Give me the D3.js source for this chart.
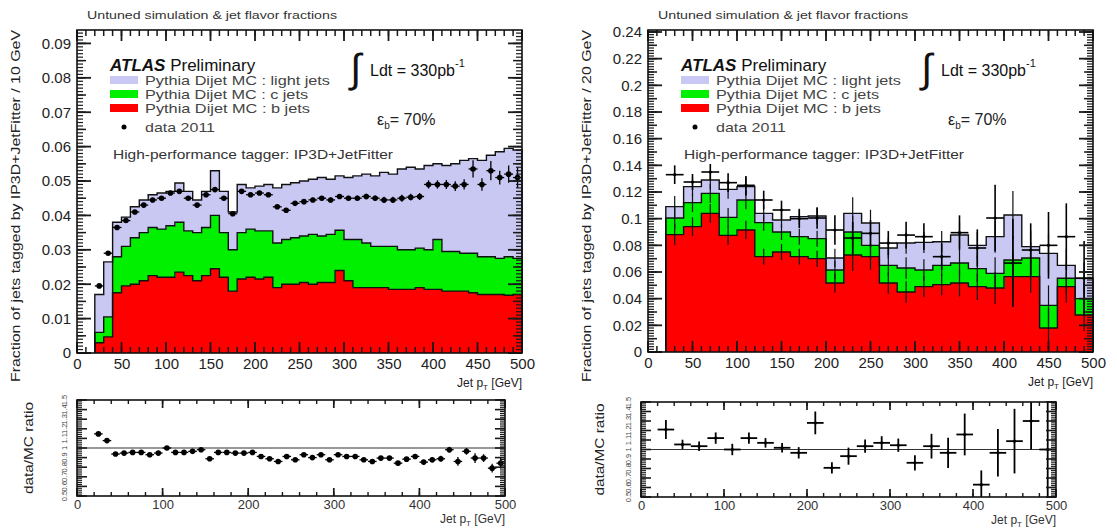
<!DOCTYPE html>
<html>
<head>
<meta charset="utf-8">
<script src="https://cdn.jsdelivr.net/npm/d3@7/dist/d3.min.js"></script>
<style>
html,body{margin:0;padding:0;background:#fff;}
svg{display:block;}
text{font-family:"Liberation Sans",Arial,Helvetica,sans-serif;}
</style>
</head>
<body>
<svg id="chart" width="1117" height="531"></svg>
<script>
// ---------------- DATA ----------------
const leftBinLow = [20,30,40,50,60,70,80,90,100,110,120,130,140,150,160,170,180,190,200,210,220,230,240,250,260,270,280,290,300,310,320,330,340,350,360,370,380,390,400,410,420,430,440,450,460,470,480,490];
const leftB = [0.003,0.0047,0.0175,0.0195,0.020,0.021,0.0225,0.022,0.022,0.0235,0.0225,0.021,0.0225,0.0245,0.022,0.018,0.0215,0.022,0.0215,0.022,0.019,0.020,0.020,0.0205,0.020,0.0205,0.0205,0.024,0.021,0.019,0.019,0.019,0.019,0.0185,0.0185,0.0185,0.019,0.0185,0.0185,0.018,0.018,0.018,0.0175,0.017,0.017,0.017,0.0168,0.017];
const leftC = [0.003,0.0058,0.0105,0.0115,0.0135,0.014,0.014,0.014,0.015,0.0145,0.013,0.014,0.014,0.0155,0.013,0.012,0.0135,0.014,0.014,0.0135,0.013,0.013,0.0135,0.0135,0.0145,0.0135,0.014,0.0117,0.012,0.014,0.013,0.012,0.012,0.0125,0.0115,0.0115,0.0115,0.0115,0.0145,0.0115,0.0115,0.011,0.0115,0.011,0.011,0.0105,0.0112,0.0105];
const leftLight = [0.011,0.016,0.010,0.0085,0.009,0.0095,0.0095,0.0105,0.010,0.0114,0.0115,0.0095,0.0105,0.013,0.012,0.011,0.014,0.012,0.013,0.0135,0.016,0.016,0.016,0.016,0.016,0.017,0.016,0.0158,0.018,0.0185,0.020,0.0205,0.0215,0.021,0.0235,0.024,0.023,0.0245,0.022,0.025,0.0255,0.027,0.0275,0.028,0.0295,0.031,0.0315,0.0315];
const leftData = [0.0195,0.029,0.0365,0.0385,0.041,0.043,0.0445,0.045,0.0465,0.047,0.045,0.043,0.046,0.0475,0.045,0.0405,0.047,0.046,0.0465,0.046,0.0425,0.0415,0.0435,0.044,0.0445,0.045,0.0445,0.0455,0.045,0.045,0.0455,0.045,0.0445,0.0445,0.045,0.0453,0.0455,0.049,0.049,0.049,0.0485,0.049,0.0535,0.049,0.053,0.051,0.052,0.051];
const leftDataErr = [0.0003,0.0003,0.0003,0.0003,0.0003,0.0003,0.0003,0.0003,0.0003,0.0003,0.0004,0.0004,0.0004,0.0004,0.0004,0.0004,0.0004,0.0004,0.0005,0.0005,0.0005,0.0005,0.0006,0.0006,0.0006,0.0006,0.0007,0.0007,0.0007,0.0008,0.0008,0.0008,0.0009,0.0009,0.001,0.001,0.001,0.0012,0.0012,0.0013,0.0014,0.0015,0.0025,0.0018,0.0028,0.002,0.0025,0.003];
const leftRatio = [1.147,1.077,0.937,0.947,0.954,0.954,0.93,0.947,1.0,0.954,0.954,0.965,0.982,0.888,0.954,0.954,0.947,0.947,0.954,0.912,0.888,0.86,0.912,0.877,0.93,0.90,0.93,0.877,0.93,0.912,0.912,0.877,0.86,0.895,0.895,0.842,0.884,0.912,0.853,0.877,0.888,0.982,0.86,0.965,0.895,0.895,0.79,0.842];
const leftRatioErr = [0.015,0.012,0.01,0.01,0.01,0.01,0.01,0.01,0.01,0.01,0.01,0.01,0.01,0.01,0.01,0.012,0.012,0.012,0.012,0.012,0.012,0.012,0.014,0.014,0.014,0.014,0.016,0.016,0.016,0.018,0.018,0.018,0.02,0.02,0.022,0.022,0.022,0.025,0.025,0.027,0.03,0.03,0.045,0.035,0.05,0.04,0.045,0.055];

const rightBinLow = [20,40,60,80,100,120,140,160,180,200,220,240,260,280,300,320,340,360,380,400,420,440,460,480];
const rightB = [0.088,0.094,0.104,0.0875,0.0915,0.0715,0.075,0.0715,0.070,0.0517,0.0728,0.0715,0.0517,0.045,0.049,0.0505,0.0517,0.049,0.048,0.0565,0.0565,0.018,0.049,0.0277];
const rightC = [0.0125,0.018,0.015,0.0135,0.0225,0.0255,0.015,0.015,0.015,0.0098,0.0172,0.0085,0.0133,0.018,0.0125,0.0145,0.015,0.0135,0.011,0.0125,0.014,0.017,0.0063,0.0123];
const rightLight = [0.0085,0.012,0.010,0.021,0.010,0.007,0.009,0.015,0.017,0.009,0.014,0.0167,0.013,0.0187,0.0207,0.0177,0.021,0.0175,0.0275,0.0337,0.0085,0.039,0.0097,0.0153];
const rightData = [0.133,0.1275,0.135,0.127,0.125,0.114,0.1065,0.1,0.1005,0.0915,0.0855,0.089,0.0817,0.0877,0.0865,0.0715,0.0895,0.078,0.1005,0.0667,0.0765,0.080,0.0865,0.0553];
const rightDataErr = [0.007,0.006,0.006,0.007,0.007,0.007,0.007,0.007,0.008,0.011,0.012,0.01,0.009,0.01,0.01,0.01,0.013,0.014,0.025,0.033,0.02,0.025,0.025,0.028];
const rightMcErr = [0.008,0.007,0.007,0.007,0.007,0.006,0.006,0.006,0.006,0.007,0.012,0.01,0.008,0.008,0.008,0.008,0.01,0.01,0.012,0.018,0.012,0.015,0.012,0.012];
const rightRatio = [1.21,1.053,1.035,1.12,1.0,1.12,1.07,1.018,0.965,1.28,0.807,0.93,1.035,1.07,1.045,0.86,1.035,0.965,1.158,0.63,0.965,1.088,1.30,1.0];
const rightRatioErr = [0.1,0.05,0.05,0.06,0.06,0.06,0.05,0.05,0.06,0.12,0.06,0.09,0.07,0.07,0.07,0.08,0.13,0.16,0.22,0.15,0.25,0.34,0.3,0.5];

const mainXTicks = [0,50,100,150,200,250,300,350,400,450,500];
const mainXTickLabels = ["0","50","100","150","200","250","300","350","400","450","500"];
const leftYTicks = [0,0.01,0.02,0.03,0.04,0.05,0.06,0.07,0.08,0.09];
const leftYTickLabels = ["0","0.01","0.02","0.03","0.04","0.05","0.06","0.07","0.08","0.09"];
const rightYTicks = [0,0.02,0.04,0.06,0.08,0.1,0.12,0.14,0.16,0.18,0.2,0.22,0.24];
const rightYTickLabels = ["0","0.02","0.04","0.06","0.08","0.1","0.12","0.14","0.16","0.18","0.2","0.22","0.24"];
const ratioXTicks = [0,100,200,300,400,500];
const ratioXTickLabels = ["0","100","200","300","400","500"];
const ratioYTicks = [0.5,0.6,0.7,0.8,0.9,1,1.1,1.2,1.3,1.4,1.5];
const ratioYTickLabels = ["0.5","0.6","0.7","0.8","0.9","1","1.1","1.2","1.3","1.4","1.5"];

const legendLabels = ["Pythia Dijet MC : light jets","Pythia Dijet MC : c jets","Pythia Dijet MC : b jets","data 2011"];
const colors = {b:"#ff0000", c:"#00f000", l:"#c8c8f2"};

// ---------------- DRAWING ----------------
const svg = d3.select("#chart");
const TICK = "#1a1a1a";

function fit(sel, len) {
  sel.attr("textLength", len).attr("lengthAdjust", "spacingAndGlyphs");
  return sel;
}

// inside tick marks as thin filled rects, positions from the scale
function tickMarks(g, scale, side, pos, values, len, sw) {
  const horizontal = side === "bottom" || side === "top";
  const grp = g.append("g").attr("fill", TICK);
  values.forEach(v => {
    const s = +scale(v);
    if (horizontal) {
      const y0 = side === "bottom" ? pos - len : pos;
      grp.append("rect").attr("x", s - sw / 2).attr("y", y0).attr("width", sw).attr("height", len);
    } else {
      const x0 = side === "right" ? pos - len : pos;
      grp.append("rect").attr("x", x0).attr("y", s - sw / 2).attr("width", len).attr("height", sw);
    }
  });
}

function drawMain(L, D) {
  const g = svg.append("g");
  const x = d3.scaleLinear().domain([0,500]).range([L.x0, L.x1]);
  const y = d3.scaleLinear().domain([0, L.ymax]).range([L.yb, L.yt]);
  const bins = D.lo.map((lo,i)=>({lo, hi: lo + D.width, b: D.b[i], c: D.c[i], l: D.l[i]}));
  const series = d3.stack().keys(["b","c","l"])(bins);
  series.forEach(s => {
    g.append("g").selectAll("rect").data(s).join("rect")
      .attr("x", d => x(d.data.lo)).attr("width", d => x(d.data.hi) - x(d.data.lo) + 0.6)
      .attr("y", d => y(d[1])).attr("height", d => y(d[0]) - y(d[1]))
      .attr("fill", colors[s.key]).attr("shape-rendering","crispEdges");
  });
  series.forEach(s => {
    let p = `M${x(s[0].data.lo)},${y(0)}`;
    s.forEach(d => { p += `V${y(d[1])}H${x(d.data.hi)}`; });
    p += `V${y(0)}`;
    g.append("path").attr("d", p).attr("fill","none").attr("stroke", "#111").attr("stroke-width", 1.4);
  });
  if (D.mcErr) {
    series.forEach(s => {
      g.append("g").selectAll("line").data(s).join("line")
        .attr("x1", d => x((d.data.lo+d.data.hi)/2)).attr("x2", d => x((d.data.lo+d.data.hi)/2))
        .attr("y1", (d,i) => y(d[1] - D.mcErr[i])).attr("y2", (d,i) => y(d[1] + D.mcErr[i]))
        .attr("stroke", "#111").attr("stroke-width", 1.2);
    });
  }
  const pts = D.data.map((v,i)=>({lo: D.lo[i], hi: D.lo[i]+D.width, v, e: D.err[i]}));
  const dg = g.append("g");
  dg.selectAll("line.h").data(pts).join("line").attr("class","h")
    .attr("x1", d => x(d.lo)).attr("x2", d => x(d.hi)).attr("y1", d => y(d.v)).attr("y2", d => y(d.v))
    .attr("stroke", "#000").attr("stroke-width", D.lw);
  dg.selectAll("line.v").data(pts).join("line").attr("class","v")
    .attr("x1", d => x((d.lo+d.hi)/2)).attr("x2", d => x((d.lo+d.hi)/2))
    .attr("y1", d => y(d.v - d.e)).attr("y2", d => y(d.v + d.e))
    .attr("stroke", "#000").attr("stroke-width", D.lw);
  dg.selectAll("circle").data(pts).join("circle")
    .attr("cx", d => x((d.lo+d.hi)/2)).attr("cy", d => y(d.v)).attr("r", D.r).attr("fill","#000");

  const xMinor = d3.range(0, 501, 10);
  tickMarks(g, x, "bottom", L.yb, xMinor, 6, 1.5);
  tickMarks(g, x, "bottom", L.yb, mainXTicks, 11, 1.8);
  tickMarks(g, x, "top", L.yt, xMinor, 6, 1.5);
  tickMarks(g, x, "top", L.yt, mainXTicks, 11, 1.8);
  const yMinor = d3.range(0, L.ymax, L.yMinorStep);
  const yMid = d3.range(0, L.ymax, L.yMidStep);
  tickMarks(g, y, "left", L.x0, yMinor, 6, 1.2);
  tickMarks(g, y, "left", L.x0, yMid, 9, 1.5);
  tickMarks(g, y, "left", L.x0, D.yTicks, 14, 1.8);
  tickMarks(g, y, "right", L.x1, yMinor, 6, 1.2);
  tickMarks(g, y, "right", L.x1, yMid, 9, 1.5);
  tickMarks(g, y, "right", L.x1, D.yTicks, 14, 1.8);

  const xl = g.append("g").attr("transform", `translate(0,${L.yb})`)
    .call(d3.axisBottom(x).tickValues(mainXTicks).tickSize(0).tickPadding(5).tickFormat((d,i)=>mainXTickLabels[i]));
  xl.select(".domain").remove();
  xl.selectAll("text").attr("font-size", 15).attr("fill", "#222").attr("font-family", "Liberation Sans, Arial, sans-serif");
  const yl = g.append("g").attr("transform", `translate(${L.x0},0)`)
    .call(d3.axisLeft(y).tickValues(D.yTicks).tickSize(0).tickPadding(6).tickFormat((d,i)=>D.yLabels[i]));
  yl.select(".domain").remove();
  yl.selectAll("text").attr("font-size", 15).attr("fill", "#222").attr("font-family", "Liberation Sans, Arial, sans-serif");

  g.append("rect").attr("x", L.x0).attr("y", L.yt).attr("width", L.x1 - L.x0).attr("height", L.yb - L.yt)
    .attr("fill","none").attr("stroke", "#111").attr("stroke-width", 1.6);

  fit(g.append("text").attr("transform", `translate(${L.ytx},${L.yt}) rotate(-90)`).attr("text-anchor","end")
    .attr("font-size", 13).attr("fill","#222").text(D.yTitle), 352);
  const xt = g.append("text").attr("x", L.x1).attr("y", L.yb + 34).attr("text-anchor","end").attr("font-size", 12).attr("fill","#222");
  xt.append("tspan").text("Jet p");
  xt.append("tspan").attr("font-size", 8).attr("dy", 3).text("T");
  xt.append("tspan").attr("dy", -3).text(" [GeV]");

  fit(g.append("text").attr("x", L.x0 + 10).attr("y", 19).attr("font-size", 11.5).attr("fill","#333")
    .text("Untuned simulation & jet flavor fractions"), 250);

  const at = g.append("text").attr("x", L.x0 + 33).attr("y", 71).attr("font-size", 17).attr("fill","#111");
  at.append("tspan").attr("font-weight","bold").attr("font-style","italic").text("ATLAS");
  at.append("tspan").text(" Preliminary");

  const lx = L.x0 + 33;
  const rows = [{c: colors.l, y: 80, t: legendLabels[0], w: 185}, {c: colors.c, y: 94, t: legendLabels[1], w: 163}, {c: colors.b, y: 108, t: legendLabels[2], w: 165}];
  rows.forEach(r => {
    g.append("rect").attr("x", lx).attr("y", r.y - 4).attr("width", 28).attr("height", 8).attr("fill", r.c);
    fit(g.append("text").attr("x", lx + 35).attr("y", r.y + 5).attr("font-size", 13).attr("fill", "#444").text(r.t), r.w);
  });
  g.append("circle").attr("cx", lx + 14).attr("cy", 127).attr("r", 2.5).attr("fill","#000");
  fit(g.append("text").attr("x", lx + 35).attr("y", 132).attr("font-size", 13).attr("fill", "#444").text(legendLabels[3]), 70);
  fit(g.append("text").attr("x", L.x0 + 36).attr("y", 159).attr("font-size", 13).attr("fill", "#333")
    .text("High-performance tagger: IP3D+JetFitter"), 280);

  g.append("text").attr("x", L.x0 + 273).attr("y", 82).attr("font-size", 40).attr("font-family","DejaVu Sans")
    .attr("fill","#111").text("\u222B");
  const lt = g.append("text").attr("x", L.x0 + 293).attr("y", 76).attr("font-size", 16).attr("fill","#111");
  lt.append("tspan").text("Ldt = 330pb");
  lt.append("tspan").attr("font-size", 11).attr("dy", -9).text("-1");
  const ep = g.append("text").attr("x", L.x0 + 300).attr("y", 125).attr("font-size", 16).attr("fill","#222");
  ep.append("tspan").text("\u03B5");
  ep.append("tspan").attr("font-size", 10).attr("dy", 4).text("b");
  ep.append("tspan").attr("dy", -4).text("= 70%");
}

function drawRatio(L, D) {
  const g = svg.append("g");
  const x = d3.scaleLinear().domain([0,500]).range([L.x0, L.x1]);
  const y = d3.scaleLinear().domain([0.5,1.5]).range([L.yb, L.yt]);
  g.append("line").attr("x1", L.x0).attr("x2", L.x1).attr("y1", y(1)).attr("y2", y(1))
    .attr("stroke", "#333").attr("stroke-width", 1.2);
  const pts = D.ratio.map((v,i)=>({lo: D.lo[i], hi: D.lo[i]+D.width, v, e: D.err[i]}));
  g.append("g").selectAll("line").data(pts).join("line")
    .attr("x1", d => x(d.lo)).attr("x2", d => x(d.hi)).attr("y1", d => y(d.v)).attr("y2", d => y(d.v))
    .attr("stroke","#000").attr("stroke-width", D.lw);
  g.append("g").selectAll("line").data(pts).join("line")
    .attr("x1", d => x((d.lo+d.hi)/2)).attr("x2", d => x((d.lo+d.hi)/2))
    .attr("y1", d => y(Math.max(0.5, d.v - d.e))).attr("y2", d => y(Math.min(1.5, d.v + d.e)))
    .attr("stroke","#000").attr("stroke-width", D.lw);
  g.append("g").selectAll("circle").data(pts).join("circle")
    .attr("cx", d => x((d.lo+d.hi)/2)).attr("cy", d => y(d.v)).attr("r", D.r).attr("fill","#000");

  const xMinor = d3.range(0, 501, 20);
  tickMarks(g, x, "bottom", L.yb, xMinor, 4, 1.4);
  tickMarks(g, x, "bottom", L.yb, ratioXTicks, 8, 1.7);
  tickMarks(g, x, "top", L.yt, xMinor, 4, 1.4);
  tickMarks(g, x, "top", L.yt, ratioXTicks, 8, 1.7);
  const yMinor = d3.range(0.5, 1.501, 0.02);
  tickMarks(g, y, "left", L.x0, yMinor, 5, 1.1);
  tickMarks(g, y, "left", L.x0, ratioYTicks, 10, 1.6);
  tickMarks(g, y, "right", L.x1, yMinor, 5, 1.1);
  tickMarks(g, y, "right", L.x1, ratioYTicks, 10, 1.6);

  const xl = g.append("g").attr("transform", `translate(0,${L.yb})`)
    .call(d3.axisBottom(x).tickValues(ratioXTicks).tickSize(0).tickPadding(4).tickFormat((d,i)=>ratioXTickLabels[i]));
  xl.select(".domain").remove();
  xl.selectAll("text").attr("font-size", 13).attr("fill", "#333").attr("font-family", "Liberation Sans, Arial, sans-serif");
  g.append("g").selectAll("text").data(ratioYTicks).join("text")
    .attr("transform", d => `translate(${L.x0 - 10},${y(d)}) rotate(-90)`)
    .attr("text-anchor","middle").attr("font-size", 7.5).attr("fill","#444")
    .text((d,i) => ratioYTickLabels[i]);

  g.append("rect").attr("x", L.x0).attr("y", L.yt).attr("width", L.x1 - L.x0).attr("height", L.yb - L.yt)
    .attr("fill","none").attr("stroke", "#111").attr("stroke-width", 1.6);

  fit(g.append("text").attr("transform", `translate(${L.ytx},${(L.yt+L.yb)/2}) rotate(-90)`).attr("text-anchor","middle")
    .attr("font-size", 12).attr("fill","#222").text("data/MC ratio"), 92);
  const xt = g.append("text").attr("x", L.x1).attr("y", L.yb + 27).attr("text-anchor","end").attr("font-size", 12).attr("fill","#333");
  xt.append("tspan").text("Jet p");
  xt.append("tspan").attr("font-size", 8).attr("dy", 3).text("T");
  xt.append("tspan").attr("dy", -3).text(" [GeV]");
}

drawMain({x0:77, x1:522, yb:353, yt:30, ymax:0.0939, yMinorStep:0.001, yMidStep:0.005, ytx:20},
  {lo:leftBinLow, width:10, b:leftB, c:leftC, l:leftLight, data:leftData, err:leftDataErr, r:2.8, lw:1.3,
   yTicks:leftYTicks, yLabels:leftYTickLabels, yTitle:"Fraction of jets tagged by IP3D+JetFitter / 10 GeV"});
drawMain({x0:648, x1:1093, yb:352, yt:30, ymax:0.2415, yMinorStep:0.002, yMidStep:0.01, ytx:591},
  {lo:rightBinLow, width:20, b:rightB, c:rightC, l:rightLight, data:rightData, err:rightDataErr, mcErr:rightMcErr, r:1.6, lw:1.6,
   yTicks:rightYTicks, yLabels:rightYTickLabels, yTitle:"Fraction of jets tagged by IP3D+JetFitter / 20 GeV"});
drawRatio({x0:77, x1:505, yb:496, yt:400, ytx:33},
  {lo:leftBinLow, width:10, ratio:leftRatio, err:leftRatioErr, r:2.8, lw:1.3});
drawRatio({x0:641, x1:1056, yb:497, yt:402, ytx:604},
  {lo:rightBinLow, width:20, ratio:rightRatio, err:rightRatioErr, r:1.6, lw:1.8});
</script>
</body>
</html>
